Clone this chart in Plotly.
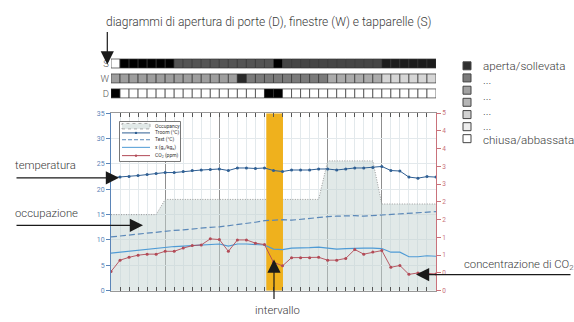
import plotly.graph_objects as go

# ---------------- data ----------------
steps = list(range(37))
occupancy = [15, 15, 15, 15, 15, 15, 18, 18, 18, 18, 18, 18, 18, 18, 18, 18, 18, 18,
             18, 18, 18, 18, 18, 18, 25.6, 25.6, 25.6, 25.6, 25.6, 25.6, 17.1, 17.1,
             17.1, 17.1, 17.1, 17.1, 17.1]
t_room = [22.3, 22.4, 22.5, 22.7, 22.9, 23.1, 23.3, 23.3, 23.5, 23.7, 23.8, 23.9, 24.0,
          23.7, 24.2, 24.2, 24.1, 24.2, 23.7, 23.5, 23.8, 23.8, 23.8, 24.0, 24.0, 23.8,
          24.0, 24.2, 24.2, 24.3, 24.5, 23.7, 23.6, 22.4, 22.2, 22.5, 22.4]
t_ext = [10.6, 10.8, 11.0, 11.2, 11.4, 11.6, 11.8, 11.9, 12.0, 12.2, 12.3, 12.5, 12.6,
         12.8, 13.0, 13.2, 13.5, 13.8, 13.9, 14.0, 13.9, 14.1, 14.3, 14.5, 14.6, 14.7,
         14.8, 14.8, 14.7, 14.8, 14.9, 15.1, 15.2, 15.3, 15.4, 15.5, 15.6]
x_hum = [7.4, 7.6, 7.8, 8.0, 8.2, 8.4, 8.6, 8.7, 8.8, 8.9, 9.0, 9.1, 9.2, 8.8, 9.2, 9.2,
         9.1, 9.0, 8.2, 8.1, 8.4, 8.4, 8.5, 8.6, 8.4, 8.2, 8.3, 8.4, 8.4, 8.4, 8.3, 7.6,
         7.6, 6.7, 6.7, 6.9, 6.8]
co2 = [0.54, 0.86, 0.94, 1.00, 1.03, 1.03, 1.11, 1.11, 1.20, 1.27, 1.29, 1.46, 1.44,
       1.11, 1.43, 1.43, 1.34, 1.30, 0.80, 0.70, 0.93, 0.93, 0.93, 0.94, 0.86, 0.86,
       0.91, 1.16, 1.03, 1.09, 1.13, 0.66, 0.71, 0.46, 0.50, 0.49, 0.47]
interval = [17.2, 19.05]

cells = [c + 0.5 for c in range(36)]
shutters_S = [0] + [1] * 6 + [0.67] * 11 + [1] + [0.73] * 11 + [0.89] * 6
windows_W = [0.38] * 14 + [0.84] + [0.52] * 9 + [0.33] * 6 + [0.16] * 6
doors_D = [1] + [0] * 16 + [1, 1] + [0] * 17
row_labels = ["D", "W", "S"]

left_ticks = [0, 5, 10, 15, 20, 25, 30, 35]
right_ticks = [0, 0.5, 1, 1.5, 2, 2.5, 3, 3.5, 4, 4.5, 5]
right_ticktext = [str(int(v)) for v in right_ticks]

legend_greys = ["#2e2e2e", "#7b7b7b", "#a2a2a2", "#b6b6b6", "#d2d2d2", "#eeeeee", "#ffffff"]

# ---------------- layout helpers ----------------
W, H = 574, 322
def px(x):
    return x / W
def py(y):
    return 1 - y / H

FONT = "Roboto"
TXT = "#3a3a3a"
C_ROOM = "#2f5f93"
C_EXT = "#5b88b8"
C_X = "#4f9bd5"
C_CO2 = "#b24a56"
C_OCC_FILL = "rgba(196,212,210,0.5)"
C_BAND = "#efb11d"

fig = go.Figure()

fig.add_trace(go.Scatter(x=steps, y=occupancy, mode="lines", fill="tozeroy",
                         fillcolor=C_OCC_FILL,
                         line=dict(color="#9a9a9a", width=1, dash="1px,1.5px"),
                         xaxis="x", yaxis="y", showlegend=False))
fig.add_trace(go.Scatter(x=[interval[0], interval[1], interval[1], interval[0]],
                         y=[left_ticks[0], left_ticks[0], left_ticks[-1], left_ticks[-1]],
                         mode="lines", fill="toself", fillcolor=C_BAND,
                         line=dict(width=0, color=C_BAND), xaxis="x", yaxis="y",
                         showlegend=False, hoverinfo="skip"))
fig.add_trace(go.Scatter(x=steps, y=t_ext, mode="lines",
                         line=dict(color=C_EXT, width=1.2, dash="6px,3px"),
                         xaxis="x", yaxis="y", showlegend=False))
fig.add_trace(go.Scatter(x=steps, y=x_hum, mode="lines",
                         line=dict(color=C_X, width=1.1),
                         xaxis="x", yaxis="y", showlegend=False))
fig.add_trace(go.Scatter(x=steps, y=t_room, mode="lines+markers",
                         line=dict(color=C_ROOM, width=1), marker=dict(size=3, color=C_ROOM),
                         xaxis="x", yaxis="y", showlegend=False))
fig.add_trace(go.Scatter(x=steps, y=co2, mode="lines+markers",
                         line=dict(color=C_CO2, width=0.9), marker=dict(size=3, color=C_CO2),
                         xaxis="x", yaxis="y2", showlegend=False))

for row, vals in enumerate([doors_D, windows_W, shutters_S]):
    fig.add_trace(go.Bar(x=cells, y=[0.6] * len(cells), base=row - 0.3, width=1,
                         marker=dict(color=vals, colorscale=[[0, "#ffffff"], [1, "#000000"]],
                                     cmin=0, cmax=1, line=dict(color="#333333", width=0.7)),
                         xaxis="x2", yaxis="y3", showlegend=False, hoverinfo="skip"))

dom_x = [px(111), px(436)]

shapes = []
annotations = []

# internal legend box
shapes.append(dict(type="rect", xref="paper", yref="paper", x0=px(119.5), x1=px(180.5),
                   y0=py(161.5), y1=py(120.5), line=dict(color="#555", width=0.8),
                   fillcolor="white", layer="above"))
leg_rows = [
    ("Occupancy", 125.3, "occ"),
    ("Troom (°C)", 132.2, C_ROOM),
    ("Text (°C)", 139.2, C_EXT),
    ("x (g<sub>v</sub>/kg<sub>a</sub>)", 147.0, C_X),
    ("CO<sub>2</sub> (ppm)", 155.5, C_CO2),
]
for label, yy, kind in leg_rows:
    if kind == "occ":
        shapes.append(dict(type="rect", xref="paper", yref="paper", x0=px(122), x1=px(150),
                           y0=py(yy + 2.8), y1=py(yy - 2.8), fillcolor="#e1e9e8",
                           line=dict(color="#999", width=0.8, dash="dot"), layer="above"))
    else:
        dash = "4px,2px" if kind == C_EXT else "solid"
        shapes.append(dict(type="line", xref="paper", yref="paper", x0=px(122), x1=px(150),
                           y0=py(yy), y1=py(yy), line=dict(color=kind, width=1, dash=dash),
                           layer="above"))
        if kind in (C_ROOM, C_CO2):
            shapes.append(dict(type="circle", xref="paper", yref="paper", x0=px(134.8),
                               x1=px(137.2), y0=py(yy + 1.2), y1=py(yy - 1.2),
                               fillcolor=kind, line=dict(width=0), layer="above"))
    annotations.append(dict(text=label, xref="paper", yref="paper", x=px(152.5), y=py(yy),
                            xanchor="left", yanchor="middle", showarrow=False,
                            font=dict(family=FONT, size=5, color="#333")))

# right legend (grey boxes)
box_tops = [59.3, 71.7, 84.3, 96.7, 109.3, 121.7, 134.0]
for g, yt in zip(legend_greys, box_tops):
    shapes.append(dict(type="rect", xref="paper", yref="paper", x0=px(463), x1=px(471),
                       y0=py(yt + 8.2), y1=py(yt), fillcolor=g,
                       line=dict(color="#444", width=1)))
leg_texts = [("aperta/sollevata", 63.5), ("...", 78.0), ("...", 94.0), ("...", 109.5),
             ("...", 125.5), ("chiusa/abbassata", 139.5)]
for t, yy in leg_texts:
    annotations.append(dict(text=t, xref="paper", yref="paper", x=px(480.5), y=py(yy),
                            xanchor="left", yanchor="middle", showarrow=False,
                            font=dict(family=FONT, size=11.6, color=TXT, weight=300)))

# labels
labels = [
    ("diagrammi di apertura di porte (D), finestre (W) e tapparelle (S)", 269, 18.5, "center", 12),
    ("temperatura", 13, 166.0, "left", 11.3),
    ("occupazione", 13, 214.5, "left", 11.3),
    ("concentrazione di CO<sub>2</sub>", 462, 267.5, "left", 11.3),
    ("intervallo", 277, 314.0, "center", 11.3),
]
for t, xx, yy, anc, fs in labels:
    annotations.append(dict(text=t, xref="paper", yref="paper", x=px(xx), y=py(yy),
                            xanchor=anc, yanchor="middle", showarrow=False,
                            font=dict(family=FONT, size=fs, color=TXT, weight=300)))

# arrows (tip, tail offset)
arrows = [
    (107.3, 62.0, 0, -34),
    (119.0, 178.3, -104, 0),
    (143.0, 227.0, -128, 0),
    (416.0, 277.5, 156, 0),
    (274.0, 262.0, 0, 41),
]
for xx, yy, ax, ay in arrows:
    annotations.append(dict(text="", xref="paper", yref="paper", x=px(xx), y=py(yy),
                            ax=ax, ay=ay, showarrow=True, arrowhead=2, arrowsize=2.2,
                            arrowwidth=1.2, arrowcolor="#1a1a1a", standoff=0))

fig.update_layout(
    width=W, height=H, margin=dict(l=0, r=0, t=0, b=0),
    paper_bgcolor="white", plot_bgcolor="rgba(0,0,0,0)",
    barmode="overlay", showlegend=False,
    xaxis=dict(domain=dom_x, range=[0, 36], anchor="y", showticklabels=False,
               tick0=0, dtick=6, ticks="inside", ticklen=4, tickcolor="#555",
               showgrid=True, gridcolor="#8f8f8f", gridwidth=1.4,
               minor=dict(dtick=1, ticks="inside", ticklen=4, tickcolor="#555",
                          showgrid=True, gridcolor="#e3e9ec", gridwidth=1),
               showline=True, linecolor="#999", linewidth=1, mirror="ticks",
               zeroline=False),
    yaxis=dict(domain=[py(294), py(112)], range=[0, 35], tickvals=left_ticks,
               ticks="outside", ticklen=4, tickcolor="#5b85b8",
               tickfont=dict(family=FONT, size=7, color="#5b85b8"),
               showline=True, linecolor="#5b85b8", linewidth=1,
               showgrid=True, gridcolor="#e3e9ec", zeroline=False, anchor="x"),
    yaxis2=dict(overlaying="y", side="right", range=[0, 5], tickvals=right_ticks,
                ticktext=right_ticktext, ticks="outside", ticklen=4, tickcolor="#c9727b",
                tickfont=dict(family=FONT, size=6.5, color="#c9727b"),
                showline=True, linecolor="#c9727b", linewidth=1,
                showgrid=False, zeroline=False, anchor="x"),
    xaxis2=dict(domain=dom_x, range=[0, 36], anchor="y3", visible=False),
    yaxis3=dict(domain=[py(99.35), py(53.35)], range=[-0.5, 2.5], anchor="x2",
                tickvals=[0, 1, 2], ticktext=row_labels, ticks="", showgrid=False,
                zeroline=False, showline=False, ticklabelstandoff=1,
                tickfont=dict(family=FONT, size=9.5, color="#555", weight=300)),
    shapes=shapes, annotations=annotations,
)

fig.write_html("out.html", config={"displayModeBar": False},
               post_script="document.body.style.margin='0';")
